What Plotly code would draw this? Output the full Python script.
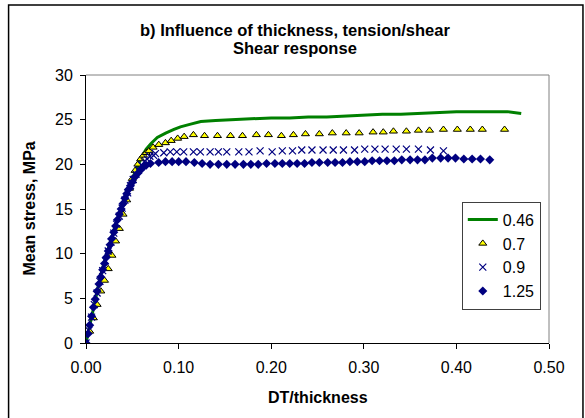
import plotly.graph_objects as go

# ---- data ----
x_046 = [0, 0.005, 0.010, 0.015, 0.020, 0.025, 0.030, 0.035, 0.040, 0.045, 0.050, 0.055,
         0.060, 0.065, 0.070, 0.077, 0.086, 0.095, 0.102, 0.113, 0.124, 0.14, 0.16, 0.18,
         0.20, 0.22, 0.24, 0.26, 0.28, 0.30, 0.32, 0.34, 0.36, 0.38, 0.40, 0.42, 0.44,
         0.455, 0.47]
y_046 = [0, 2.5, 4.9, 7.2, 9.2, 11.0, 12.6, 14.2, 15.8, 17.2, 18.4, 19.6,
         20.8, 21.7, 22.3, 23.0, 23.5, 23.9, 24.2, 24.5, 24.8, 24.9, 25.0, 25.1,
         25.2, 25.2, 25.3, 25.3, 25.4, 25.5, 25.6, 25.6, 25.7, 25.8, 25.9, 25.9, 25.9,
         25.9, 25.7]

x_07 = [0.000, 0.004, 0.008, 0.012, 0.016, 0.020, 0.024, 0.028, 0.032, 0.036, 0.040,
        0.044, 0.047, 0.050, 0.053, 0.056, 0.059, 0.062, 0.065, 0.068, 0.0725, 0.0786,
        0.0858, 0.092, 0.099, 0.106, 0.116, 0.128, 0.142, 0.156, 0.169, 0.184, 0.197,
        0.211, 0.224, 0.237, 0.252, 0.266, 0.281, 0.295, 0.310, 0.321, 0.332, 0.346,
        0.359, 0.371, 0.386, 0.401, 0.415, 0.428, 0.452]
y_07 = [0.0, 1.3, 2.8, 4.3, 5.8, 7.0, 8.3, 9.8, 11.4, 12.8, 14.4,
        16.0, 17.3, 18.4, 19.3, 20.0, 20.6, 21.0, 21.3, 21.5, 21.9, 22.2,
        22.4, 22.65, 22.9, 23.1, 23.3, 23.2, 23.2, 23.2, 23.2, 23.3, 23.3,
        23.2, 23.3, 23.4, 23.4, 23.5, 23.5, 23.5, 23.6, 23.6, 23.7, 23.7,
        23.8, 23.8, 23.9, 23.9, 23.9, 23.9, 23.9]

x_09 = [0.000, 0.003, 0.006, 0.009, 0.012, 0.015, 0.018, 0.021, 0.024, 0.027, 0.030,
        0.033, 0.036, 0.039, 0.042, 0.045, 0.048, 0.051, 0.054, 0.057, 0.060, 0.063,
        0.066, 0.069, 0.073, 0.075, 0.084, 0.091, 0.098, 0.1055, 0.116, 0.1235, 0.134,
        0.143, 0.152, 0.165, 0.176, 0.188, 0.201, 0.212, 0.223, 0.233, 0.244, 0.256,
        0.267, 0.278, 0.290, 0.301, 0.312, 0.323, 0.335, 0.346, 0.359, 0.372, 0.386]
y_09 = [0.0, 1.4, 2.9, 4.3, 5.6, 6.9, 8.1, 9.2, 10.3, 11.3, 12.3,
        13.3, 14.2, 15.1, 16.0, 16.8, 17.6, 18.3, 18.9, 19.4, 19.9, 20.3,
        20.6, 20.9, 21.0, 21.2, 21.3, 21.4, 21.4, 21.4, 21.4, 21.4, 21.4,
        21.4, 21.4, 21.4, 21.4, 21.5, 21.4, 21.5, 21.5, 21.6, 21.6, 21.6,
        21.6, 21.6, 21.6, 21.7, 21.7, 21.7, 21.7, 21.7, 21.7, 21.6, 21.5]

x_125 = [0.000, 0.002, 0.004, 0.006, 0.008, 0.010, 0.012, 0.014, 0.016, 0.018, 0.020,
         0.022, 0.024, 0.026, 0.028, 0.030, 0.032, 0.034, 0.036, 0.038, 0.040, 0.042,
         0.044, 0.046, 0.048, 0.050, 0.053, 0.056, 0.059, 0.062, 0.065, 0.0696, 0.0785,
         0.0858, 0.093, 0.1001, 0.108, 0.117, 0.1254, 0.134, 0.143, 0.152, 0.161, 0.170,
         0.178, 0.186, 0.195, 0.204, 0.212, 0.220, 0.228, 0.236, 0.244, 0.252, 0.261,
         0.269, 0.277, 0.285, 0.293, 0.301, 0.309, 0.317, 0.325, 0.333, 0.341, 0.350,
         0.358, 0.366, 0.374, 0.383, 0.391, 0.399, 0.408, 0.417, 0.426, 0.436]
y_125 = [0.0, 1.0, 2.0, 3.0, 4.0, 4.9, 5.8, 6.6, 7.4, 8.2, 8.9,
         9.6, 10.3, 11.0, 11.7, 12.4, 13.1, 13.8, 14.4, 15.0, 15.6, 16.2,
         16.7, 17.2, 17.6, 18.0, 18.6, 19.0, 19.4, 19.7, 19.9, 20.1, 20.2,
         20.3, 20.3, 20.3, 20.3, 20.2, 20.1, 20.0, 20.0, 20.0, 20.0, 20.0,
         20.0, 20.0, 20.1, 20.1, 20.1, 20.1, 20.1, 20.1, 20.2, 20.2, 20.2,
         20.2, 20.2, 20.3, 20.3, 20.3, 20.4, 20.4, 20.4, 20.4, 20.5, 20.5,
         20.5, 20.5, 20.7, 20.7, 20.7, 20.7, 20.6, 20.6, 20.6, 20.5]

x_ticks = [0.0, 0.1, 0.2, 0.3, 0.4, 0.5]
y_ticks = [0, 5, 10, 15, 20, 25, 30]

FONT = "Liberation Sans, Arial, sans-serif"
W, H = 585, 418
L, R, T, B = 85.5, 549, 75, 343  # plot area in px

def px_x(p):
    return (p - L) / (R - L)

def px_y(p):
    return (B - p) / (B - T)

fig = go.Figure()
fig.add_trace(go.Scatter(x=x_046, y=y_046, mode="lines", name="0.46",
                         line=dict(color="#008000", width=3)))
fig.add_trace(go.Scatter(x=x_07, y=y_07, mode="markers", name="0.7",
                         marker=dict(symbol="triangle-up", size=7, color="#FFFF00",
                                     line=dict(color="black", width=1))))
fig.add_trace(go.Scatter(x=x_09, y=y_09, mode="markers", name="0.9",
                         marker=dict(symbol="x-thin-open", size=7,
                                     line=dict(color="#000080", width=1.2), color="#000080")))
fig.add_trace(go.Scatter(x=x_125, y=y_125, mode="markers", name="1.25",
                         marker=dict(symbol="diamond", size=7, color="#000080",
                                     line=dict(color="#000080", width=0))))

fig.update_layout(
    width=W, height=H,
    margin=dict(l=L, r=W - R, t=T, b=H - B, pad=0),
    paper_bgcolor="white", plot_bgcolor="white",
    font=dict(family=FONT, color="black", size=16),
    showlegend=True,
    legend=dict(x=px_x(461.7), y=px_y(201.7), xanchor="left", yanchor="top",
                bgcolor="white", bordercolor="#404040", borderwidth=1,
                font=dict(family=FONT, size=16, color="black"),
                itemwidth=30),
    xaxis=dict(range=[0, 0.5], tickvals=x_ticks, tickformat=".2f",
               showline=True, linecolor="black", linewidth=1,
               ticks="outside", ticklen=5, tickcolor="black",
               showgrid=False, zeroline=False, mirror=False,
               ticklabelstandoff=5,
               tickfont=dict(family=FONT, size=16)),
    yaxis=dict(range=[0, 30], tickvals=y_ticks,
               showline=True, linecolor="black", linewidth=1,
               ticks="outside", ticklen=5, tickcolor="black",
               showgrid=False, zeroline=False, mirror=False,
               ticklabelstandoff=4,
               tickfont=dict(family=FONT, size=16)),
    annotations=[
        dict(text="<b>b) Influence of thickness, tension/shear</b>", x=px_x(295), y=px_y(30),
             xref="paper", yref="paper", showarrow=False, xanchor="center", yanchor="middle",
             font=dict(family=FONT, size=16.5)),
        dict(text="<b>Shear response</b>", x=px_x(295), y=px_y(48),
             xref="paper", yref="paper", showarrow=False, xanchor="center", yanchor="middle",
             font=dict(family=FONT, size=16.5)),
        dict(text="<b>DT/thickness</b>", x=0.5, y=px_y(397), xref="paper", yref="paper",
             showarrow=False, xanchor="center", yanchor="middle",
             font=dict(family=FONT, size=16)),
        dict(text="<b>Mean stress, MPa</b>", x=px_x(28), y=0.5, xref="paper", yref="paper",
             showarrow=False, textangle=-90, xanchor="center", yanchor="middle",
             font=dict(family=FONT, size=16)),
    ],
    shapes=[
        dict(type="line", xref="paper", yref="paper", x0=0, x1=1, y0=1, y1=1,
             line=dict(color="#808080", width=1)),
        dict(type="line", xref="paper", yref="paper", x0=1, x1=1, y0=0, y1=1,
             line=dict(color="#808080", width=1)),
        dict(type="rect", xref="paper", yref="paper",
             x0=px_x(8), x1=px_x(583), y0=px_y(5), y1=px_y(425),
             line=dict(color="black", width=1.5), fillcolor="rgba(0,0,0,0)", layer="below"),
    ],
)

fig.write_html("out.html")
